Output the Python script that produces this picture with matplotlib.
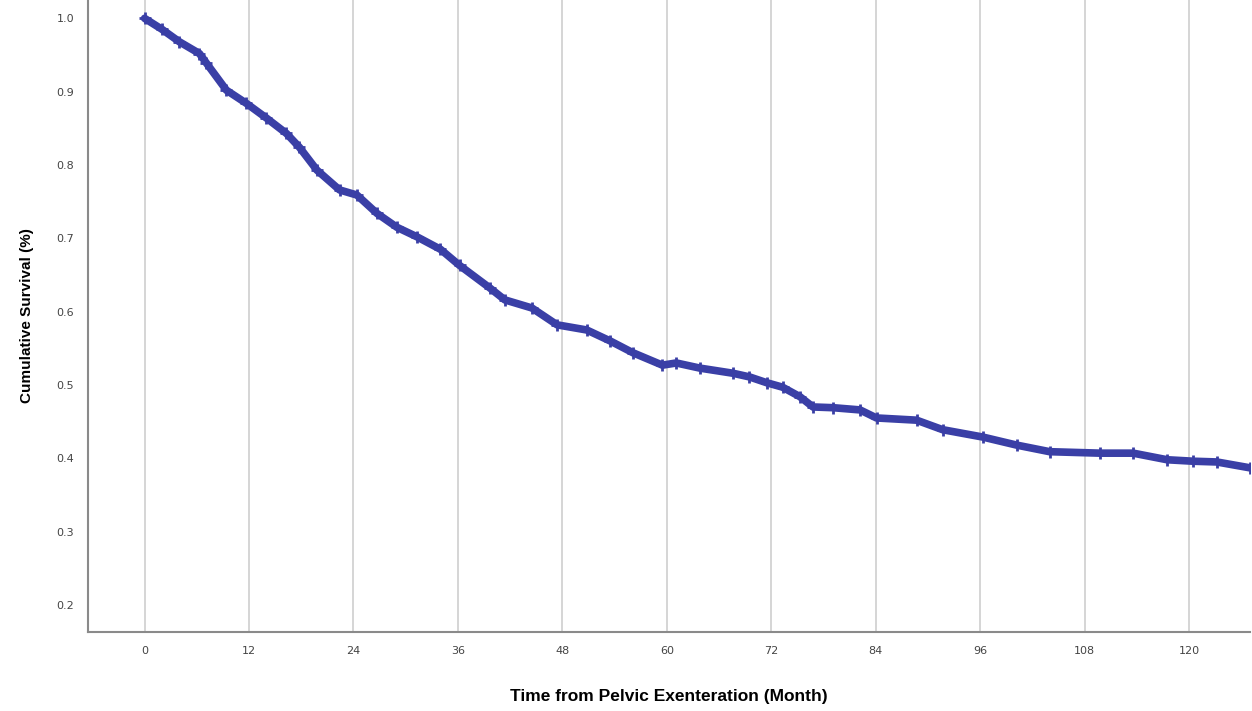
import numpy as np
import matplotlib
matplotlib.use("Agg")
import matplotlib.pyplot as plt

# Kaplan-Meier estimate (months, cumulative survival)
months = [0, 2, 4, 6.3, 7.1, 9.4, 11.7, 14, 16.3, 17.8, 19.8, 22.4, 24.4, 26.7,
          29, 31.3, 34, 36.2, 39.7, 41.4, 44.5, 47.4, 50.8, 53.5, 56.1, 59.5,
          61.1, 63.8, 67.6, 69.5, 71.5, 73.3, 75.3, 76.8, 79.1, 82.2, 84.1,
          88.7, 91.7, 96.3, 100.2, 104, 109.8, 113.6, 117.5, 120.5, 123.2, 127]
survival = [1.0, 0.985, 0.968, 0.952, 0.939, 0.902, 0.884, 0.864, 0.843, 0.824,
            0.793, 0.766, 0.759, 0.734, 0.715, 0.702, 0.685, 0.663, 0.632, 0.616,
            0.605, 0.582, 0.575, 0.560, 0.544, 0.527, 0.530, 0.523, 0.516, 0.511,
            0.503, 0.497, 0.484, 0.470, 0.469, 0.466, 0.455, 0.452, 0.439, 0.429,
            0.418, 0.409, 0.407, 0.407, 0.398, 0.396, 0.395, 0.387]

xticks = [0, 12, 24, 36, 48, 60, 72, 84, 96, 108, 120]
yticks = [0.2, 0.3, 0.4, 0.5, 0.6, 0.7, 0.8, 0.9, 1.0]

fig = plt.figure(figsize=(12.52, 7.11), dpi=100)
ax = fig.add_axes([0.0703, 0.111, 0.928, 0.889])

for xt in xticks:
    ax.axvline(xt, color="#d2d2d2", lw=1.3, zorder=1)

ax.plot(months, survival, color="#3a3fa6", lw=5.5, solid_capstyle="round",
        solid_joinstyle="round", zorder=3)
ax.plot(months, survival, linestyle="none", marker="+", markersize=9,
        markeredgewidth=2, color="#3a3fa6", zorder=4)

ax.set_xlim(-6.5, 127)
ax.set_ylim(0.163, 1.025)
ax.set_xticks(xticks)
ax.set_yticks(yticks)
ax.set_xticklabels([str(t) for t in xticks])
ax.set_yticklabels([f"{t:.1f}" for t in yticks])
ax.tick_params(length=0, labelsize=8, labelcolor="#444444", pad=10)

for side in ["top", "right"]:
    ax.spines[side].set_visible(False)
for side in ["left", "bottom"]:
    ax.spines[side].set_color("#8a8a8a")
    ax.spines[side].set_linewidth(1.5)

ax.set_xlabel("Time from Pelvic Exenteration (Month)", fontsize=12.5,
              fontweight="bold", family="Liberation Sans", labelpad=24)
ax.set_ylabel("Cumulative Survival (%)", fontsize=11, fontweight="bold",
              family="Liberation Sans", labelpad=16)

fig.savefig("out.png", dpi=100, facecolor="white")
